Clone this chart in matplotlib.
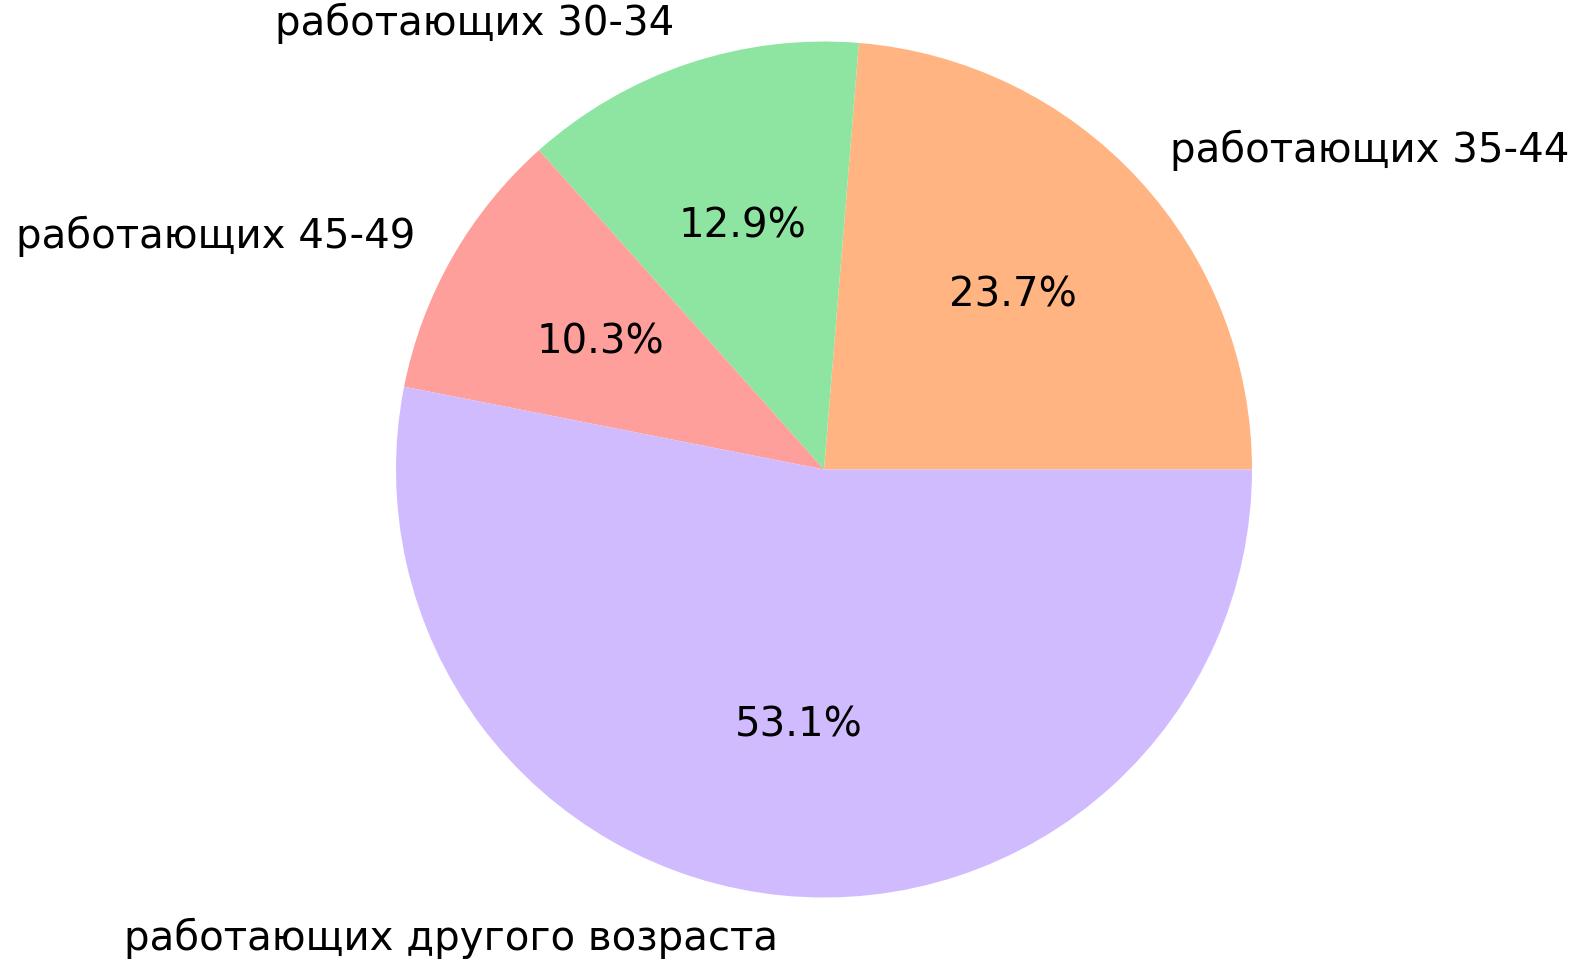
#!/usr/bin/env python3
"""Круговая диаграмма: доля работающих по возрастным группам."""
import matplotlib
matplotlib.use('Agg')
import matplotlib.pyplot as plt

labels = ['работающих 35-44', 'работающих 30-34', 'работающих 45-49',
          'работающих другого возраста']
shares = [23.7, 12.9, 10.3, 53.1]
colors = ['#ffb482', '#8de5a1', '#ff9f9b', '#d0bbff']  # seaborn pastel 1..4

plt.rcParams['font.family'] = ['DejaVu Sans']

W, H = 1573, 963
fig = plt.figure(figsize=(W / 100, H / 100), dpi=100)

# центр пирога (824, 469.5) px от верха, радиус ~428 px; pie ставит пределы ±1.25
cx, cy, r = 824, H - 469.5, 428
half = 1.25 * r
ax = fig.add_axes([(cx - half) / W, (cy - half) / H, 2 * half / W, 2 * half / H])

ax.pie(shares, labels=labels, colors=colors, autopct='%1.1f%%',
       textprops={'fontsize': 29})
ax.set_xlim(-1.25, 1.25); ax.set_ylim(-1.25, 1.25)
ax.set_aspect('equal')

fig.savefig('out.png', dpi=100)
